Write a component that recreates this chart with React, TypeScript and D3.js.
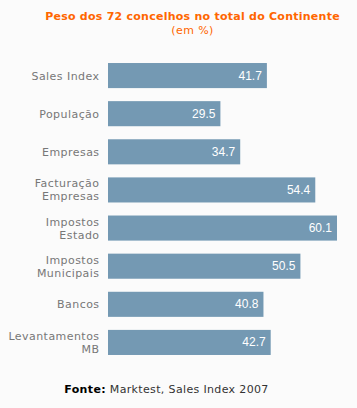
import React from "react";
import * as d3 from "d3";

const categories: string[][] = [
  ["Sales Index"],
  ["População"],
  ["Empresas"],
  ["Facturação", "Empresas"],
  ["Impostos", "Estado"],
  ["Impostos", "Municipais"],
  ["Bancos"],
  ["Levantamentos", "MB"],
];
const values: number[] = [41.7, 29.5, 34.7, 54.4, 60.1, 50.5, 40.8, 42.7];
const titleText = "Peso dos 72 concelhos no total do Continente";
const subtitleText = "(em %)";
const sourceLabel = "Fonte:";
const sourceText = " Marktest, Sales Index 2007";

const W = 357;
const H = 408;

export default function App() {
  const ids = categories.map((_, i) => String(i));
  const x = d3.scaleLinear().domain([0, d3.max(values) as number]).range([108, 337]);
  const y = d3.scaleBand().domain(ids).range([57, 361]).paddingInner(13 / 38).paddingOuter(6 / 38);
  const font = "'DejaVu Sans', Verdana, sans-serif";
  return (
    <svg
      width={W}
      height={H}
      style={{ position: "absolute", left: 0, top: 0, background: "#fbfbfb" }}
      fontFamily={font}
    >
      <rect x={0} y={0} width={W} height={H} fill="#fbfbfb" />
      <text x={192.5} y={20} textAnchor="middle" fontSize={11} fontWeight="bold" fill="#ff6600" letterSpacing={0.25}>
        {titleText}
      </text>
      <text x={192.5} y={34} textAnchor="middle" fontSize={11} fill="#ff6600" letterSpacing={0.4}>
        {subtitleText}
      </text>
      {values.map((v, i) => {
        const y0 = y(String(i)) as number;
        const bh = y.bandwidth();
        const cy = y0 + bh / 2;
        const lines = categories[i];
        const lh = 13;
        return (
          <g key={i}>
            <rect x={x(0)} y={y0} width={x(v) - x(0)} height={bh} fill="#7499b3" />
            {lines.map((l, j) => (
              <text
                key={j}
                x={99.5}
                y={cy + 4 + (j - (lines.length - 1) / 2) * lh}
                textAnchor="end"
                fontSize={11}
                fill="#777777"
                letterSpacing={0.45}
              >
                {l}
              </text>
            ))}
            <text
              x={x(v) - 5}
              y={cy + 4}
              textAnchor="end"
              fontSize={12}
              fontFamily="'Liberation Sans', Arial, sans-serif"
              fill="#ffffff"
            >
              {v.toFixed(1)}
            </text>
          </g>
        );
      })}
      <text x={166.5} y={393} textAnchor="middle" fontSize={11} fill="#333333" letterSpacing={0.35}>
        <tspan fontWeight="bold" fill="#000000">{sourceLabel}</tspan>
        <tspan>{sourceText}</tspan>
      </text>
    </svg>
  );
}
